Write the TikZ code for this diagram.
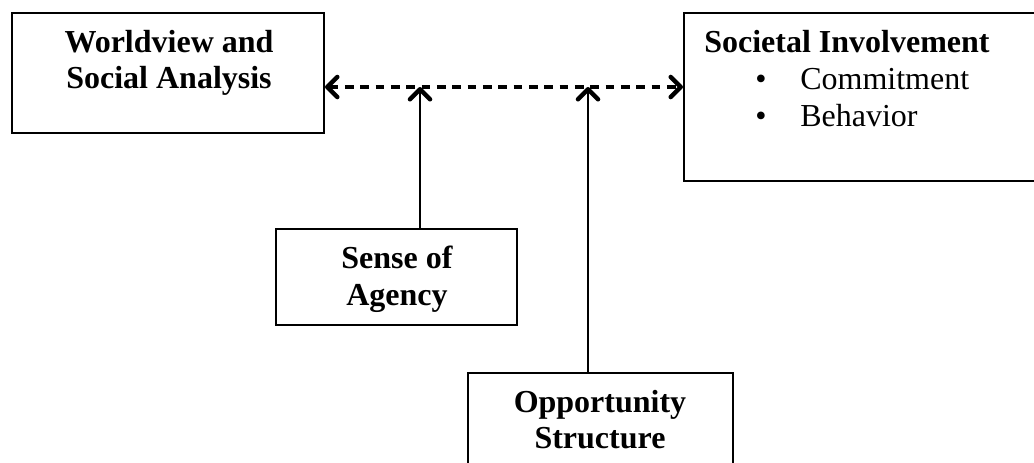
\documentclass[tikz,border=0pt]{standalone}
\usepackage{fontspec}
\setmainfont{Liberation Serif}
\usetikzlibrary{arrows.meta}
\begin{document}
\begin{tikzpicture}[x=0.75pt,y=-0.75pt,
  frame/.style={draw, line width=1.5pt, inner sep=0pt},
  head/.style={font=\fontsize{24}{29}\selectfont\bfseries, inner sep=0pt, anchor=base},
  headleft/.style={font=\fontsize{24}{29}\selectfont\bfseries, inner sep=0pt, anchor=base west},
  item/.style={font=\fontsize{24}{29}\selectfont, inner sep=0pt, anchor=base west},
  bullet/.style={font=\fontsize{24}{29}\selectfont, inner sep=0pt, anchor=base},
  barb/.tip={Straight Barb[length=7.5pt,width=15pt,line width=3.4pt,round]},
  link/.style={line width=2.2pt, -barb},
  mutual/.style={line width=2.4pt, dash pattern=on 6.5pt off 5pt, barb-barb}]
\useasboundingbox (0,0) rectangle (1034,462);
\clip (0,0) rectangle (1034,462);

% boxes
\node[frame, minimum width=234pt, minimum height=90pt] (wv) at (168,73) {};
\node[frame, minimum width=270pt, minimum height=126pt] (si) at (864,97) {};
\node[frame, minimum width=180.75pt, minimum height=72pt] (sa) at (396.5,277) {};
\node[frame, minimum width=198.75pt, minimum height=80.25pt] (os) at (600.5,426.5) {};

% box texts
\node[head] (wv1) at (169,52) {Worldview and};
\node[head] (wv2) at (169,88) {Social Analysis};

\node[headleft] (si1) at (704,52) {Societal Involvement};
\node[bullet] (b1) at (761,89) {•};
\node[item] (si2) at (800,89) {Commitment};
\node[bullet] (b2) at (761,126) {•};
\node[item] (si3) at (800,126) {Behavior};

\node[head] (sa1) at (397,268) {Sense of};
\node[head] (sa2) at (397,305) {Agency};

\node[head] (os1) at (600,412) {Opportunity};
\node[head] (os2) at (600,448) {Structure};

% junctions on the dashed link
\coordinate (j1) at (420,87);
\coordinate (j2) at (588,87);

% connectors
\draw[mutual] (wv.east |- j1) -- (si.west |- j1);
\draw[link] (sa.north -| j1) -- (j1);
\draw[link] (os.north -| j2) -- (j2);
\end{tikzpicture}
\end{document}
